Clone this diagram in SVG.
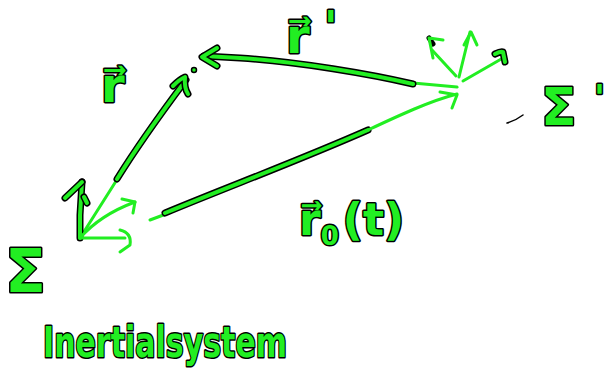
<svg xmlns="http://www.w3.org/2000/svg" xmlns:xlink="http://www.w3.org/1999/xlink" width="605" height="379" viewBox="0 0 605 379">
<style>
.k{fill:none;stroke:#000;stroke-width:7;stroke-linecap:round;stroke-linejoin:round}
.g{fill:none;stroke:#22ee22;stroke-width:4;stroke-linecap:round;stroke-linejoin:round}
.t{fill:none;stroke:#22ee22;stroke-width:3;stroke-linecap:round;stroke-linejoin:round}
.lbl{fill:#22ee22;stroke:#000;stroke-width:3;paint-order:stroke;stroke-linejoin:round;font-family:"DejaVu Sans","Liberation Sans",sans-serif;font-weight:bold}
</style>
<defs>
<path id="rLine" d="M117,179 C140,142 165,108 186,80"/>
<path id="rHead" d="M173,86 Q180,79 185,77 Q184,88 188,94"/>
<path id="rpLine" d="M413,84 C370,74 300,62 240,58 L204,56"/>
<path id="rpHead" d="M217,48 L202,57 L217,66"/>
<path id="r0Line" d="M165,213 C230,186 300,160 368,130"/>
<path id="sUp" d="M80,238 L80,215 L82,182"/>
<path id="sHook" d="M65,198 L82,182"/>
<path id="sTick" d="M84,197 L87,203"/>
<path id="pHead" d="M495,54 Q501,51 503,52 L505,62"/>
</defs>
<g id="connectors">
<g id="edge-r">
<path class="t" d="M80,238 L118,178"/>
<use xlink:href="#rLine" class="k"/><use xlink:href="#rLine" class="g"/>
<use xlink:href="#rHead" class="k"/><use xlink:href="#rHead" class="g"/>
<circle cx="194" cy="70" r="2.5" fill="#22ee22" stroke="#000" stroke-width="1.5"/>
</g>
<g id="edge-rprime">
<path class="t" d="M413,83 L457,87"/>
<use xlink:href="#rpLine" class="k"/><use xlink:href="#rpLine" class="g"/>
<use xlink:href="#rpHead" class="k"/><use xlink:href="#rpHead" class="g"/>
</g>
<g id="edge-r0">
<path class="t" d="M150,220 L166,214"/>
<use xlink:href="#r0Line" class="k"/><use xlink:href="#r0Line" class="g"/>
<path class="t" d="M368,130 C400,115 430,101 457,94"/>
<path class="t" d="M440,92 L457,95 L452,108"/>
</g>
</g>
<g id="frame-sigma">
<use xlink:href="#sUp" class="k"/><use xlink:href="#sUp" class="g"/>
<use xlink:href="#sHook" class="k"/><use xlink:href="#sHook" class="g"/>
<use xlink:href="#sTick" class="k"/><use xlink:href="#sTick" class="g"/>
<path class="t" d="M80,238 Q100,215 135,202"/>
<path class="t" d="M122,199 L135,202 L133,213"/>
<path class="t" d="M80,238 L125,238"/>
<path class="t" d="M120,230 Q132,233 130,245 L120,252"/>
<text class="lbl" x="5" y="292" font-size="60">Σ</text>
</g>
<g id="frame-sigma-prime">
<path class="t" d="M456,76 L432,50"/>
<path class="k" style="stroke-width:5" d="M429,38 L433,44"/>
<path class="t" d="M433,58 L429,38 L443,40"/>
<path class="t" d="M459,77 L470,32"/>
<path class="t" d="M464,45 L471,32 L477,45"/>
<path class="t" d="M463,81 L503,58"/>
<use xlink:href="#pHead" class="k"/><use xlink:href="#pHead" class="g"/>
<path d="M507,123 Q515,121 523,115" fill="none" stroke="#000" stroke-width="1.5" stroke-linecap="round"/>
<text class="lbl" x="541" y="125" font-size="52">Σ</text>
<text class="lbl" x="594" y="110" font-size="36">'</text>
</g>
<g id="label-r">
<text class="lbl" x="101" y="102" font-size="48">r⃗</text>
</g>
<g id="label-rprime">
<text class="lbl" x="324" y="43" font-size="44">'</text>
<text class="lbl" x="286" y="53" font-size="48">r⃗</text>
</g>
<g id="label-r0">
<text class="lbl" x="299" y="235" font-size="44">r⃗<tspan font-size="26" dy="10">0</tspan><tspan dx="4" dy="-10">(t)</tspan></text>
</g>
<g id="label-inertial">
<text class="lbl" x="43" y="357" font-size="42" textLength="244" lengthAdjust="spacingAndGlyphs">Inertialsystem</text>
</g>
</svg>
